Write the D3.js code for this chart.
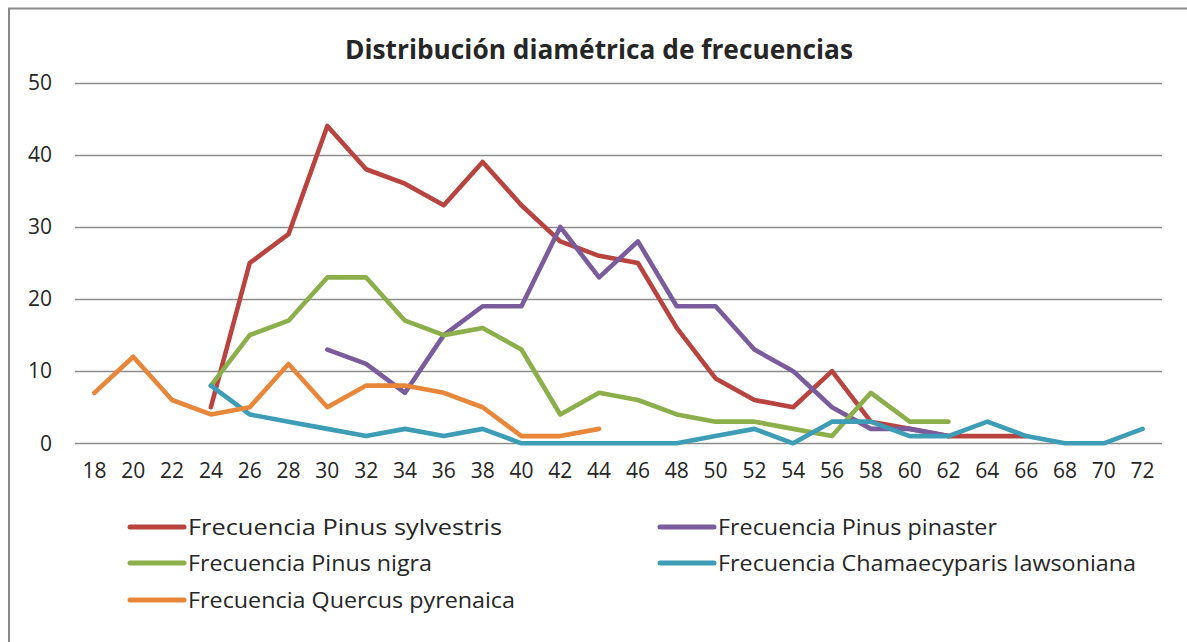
<!DOCTYPE html>
<html>
<head>
<meta charset="utf-8">
<script src="https://cdn.jsdelivr.net/npm/d3@7"></script>
<style>
  html, body { margin: 0; padding: 0; background: #fff; }
  svg { display: block; }
  text { font-family: "Open Sans", "DejaVu Sans", sans-serif; fill: #262626; }
</style>
</head>
<body>
<svg id="chart" width="1187" height="642"></svg>
<script>
const categories = [18,20,22,24,26,28,30,32,34,36,38,40,42,44,46,48,50,52,54,56,58,60,62,64,66,68,70,72];
const yTicks = [0,10,20,30,40,50];
const title = "Distribución diamétrica de frecuencias";

const seriesNames = [
  "Frecuencia Pinus sylvestris",
  "Frecuencia Pinus pinaster",
  "Frecuencia Pinus nigra",
  "Frecuencia Chamaecyparis lawsoniana",
  "Frecuencia Quercus pyrenaica"
];
const seriesColors = ["#B9433F", "#7A5C9C", "#8CAE4B", "#3D9DB6", "#E8873A"];

const _ = null;
//                    18 20 22 24 26 28 30 32 34 36 38 40 42 44 46 48 50 52 54 56 58 60 62 64 66 68 70 72
const pinusSylvestris = [_, _, _, 5,25,29,44,38,36,33,39,33,28,26,25,16, 9, 6, 5,10, 3, 2, 1, 1, 1, _, _, _];
const pinusPinaster   = [_, _, _, _, _, _,13,11, 7,15,19,19,30,23,28,19,19,13,10, 5, 2, 2, 1, _, _, _, _, _];
const pinusNigra      = [_, _, _, 8,15,17,23,23,17,15,16,13, 4, 7, 6, 4, 3, 3, 2, 1, 7, 3, 3, _, _, _, _, _];
const chamaecyparis   = [_, _, _, 8, 4, 3, 2, 1, 2, 1, 2, 0, 0, 0, 0, 0, 1, 2, 0, 3, 3, 1, 1, 3, 1, 0, 0, 2];
const quercusPyrenaica= [7,12, 6, 4, 5,11, 5, 8, 8, 7, 5, 1, 1, 2, _, _, _, _, _, _, _, _, _, _, _, _, _, _];

const seriesValues = [pinusSylvestris, pinusPinaster, pinusNigra, chamaecyparis, quercusPyrenaica];

const svg = d3.select("#chart");

// chart frame (top and left visible edges)
svg.append("path")
  .attr("d", "M9,642 L9,8.5 L1187,8.5")
  .attr("fill", "none")
  .attr("stroke", "#8a8a8a")
  .attr("stroke-width", 2);

const x = d3.scaleBand().domain(categories).range([75, 1162]);
const y = d3.scaleLinear().domain([0, 50]).range([443.3, 82.7]);
const cx = c => x(c) + x.bandwidth() / 2;

// gridlines
svg.append("g").selectAll("line").data(yTicks).join("line")
  .attr("x1", 75).attr("x2", 1162)
  .attr("y1", d => Math.round(y(d)) + 0.5).attr("y2", d => Math.round(y(d)) + 0.5)
  .attr("stroke", "#8c8c8c").attr("stroke-width", 1.3);

// y axis labels
const yAxis = d3.axisLeft(y).tickValues(yTicks).tickSize(0).tickPadding(0);
const gy = svg.append("g").attr("transform", "translate(52,0)").call(yAxis);
gy.select(".domain").remove();
gy.selectAll("text").style("font-size", "21px").attr("fill", "#262626")
  .style("font-family", "'Open Sans', sans-serif");

// x axis labels
const xAxis = d3.axisBottom(x).tickSize(0).tickPadding(0);
const gx = svg.append("g").attr("transform", "translate(0,463)").call(xAxis);
gx.select(".domain").remove();
gx.selectAll("text").style("font-size", "21px").attr("fill", "#262626")
  .style("font-family", "'Open Sans', sans-serif");

// series lines
const line = d3.line()
  .defined(d => d.v !== null)
  .x(d => cx(d.c))
  .y(d => y(d.v));

seriesValues.forEach((vals, i) => {
  const data = categories.map((c, j) => ({c: c, v: vals[j]}));
  svg.append("path")
    .datum(data)
    .attr("d", line)
    .attr("fill", "none")
    .attr("stroke", seriesColors[i])
    .attr("stroke-width", 4.6)
    .attr("stroke-linejoin", "round")
    .attr("stroke-linecap", "round");
});

// title
svg.append("text")
  .attr("x", 599).attr("y", 59)
  .attr("text-anchor", "middle")
  .style("font-size", "26px").style("font-weight", "bold")
  .attr("fill", "#000")
  .attr("textLength", 508).attr("lengthAdjust", "spacingAndGlyphs")
  .text(title);

// legend
const legendPos = [
  {x: 130, y: 527}, {x: 660, y: 527},
  {x: 130, y: 563}, {x: 660, y: 563},
  {x: 130, y: 600}
];
const legendWidths = [314, 279, 244, 418, 327];
const lg = svg.append("g");
seriesNames.forEach((name, i) => {
  const p = legendPos[i];
  lg.append("line")
    .attr("x1", p.x).attr("x2", p.x + 54)
    .attr("y1", p.y).attr("y2", p.y)
    .attr("stroke", seriesColors[i]).attr("stroke-width", 5)
    .attr("stroke-linecap", "round");
  lg.append("text")
    .attr("x", p.x + 58).attr("y", p.y + 8)
    .style("font-size", "22px")
    .attr("fill", "#262626")
    .attr("textLength", legendWidths[i]).attr("lengthAdjust", "spacingAndGlyphs")
    .text(name);
});
</script>
</body>
</html>
